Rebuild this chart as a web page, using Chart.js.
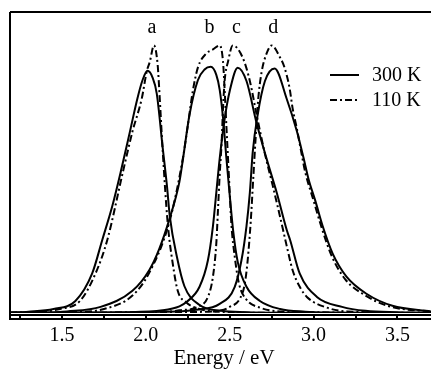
<!DOCTYPE html>
<html>
<head>
<meta charset="utf-8">
<script src="https://cdn.jsdelivr.net/npm/chart.js@4/dist/chart.umd.min.js"></script>
<style>
html,body{margin:0;padding:0;background:#fff;}
canvas{display:block;}
</style>
</head>
<body>
<canvas id="c" width="431" height="374"></canvas>
<script>
// Energies (eV) and intensities
const a300E = [1.19,1.30,1.45,1.58,1.68,1.74,1.80,1.85,1.905,1.95,1.98,2.01,2.04,2.065,2.10,2.125,2.143,2.185,2.23,2.32,2.45,2.60,2.80,3.70];
const a300I = [0.002,0.005,0.015,0.045,0.148,0.273,0.40,0.527,0.678,0.803,0.87,0.905,0.88,0.82,0.62,0.48,0.36,0.21,0.10,0.03,0.008,0.003,0.001,0];
const a110E = [1.19,1.35,1.488,1.607,1.70,1.77,1.863,1.92,1.976,2.006,2.024,2.048,2.07,2.083,2.10,2.13,2.16,2.19,2.24,2.32,2.45,2.70,3.70];
const a110I = [0.001,0.004,0.015,0.045,0.148,0.273,0.527,0.678,0.803,0.905,0.94,1.0,0.93,0.80,0.61,0.337,0.186,0.083,0.04,0.015,0.004,0.001,0];
const b300E = [1.19,1.40,1.53,1.73,1.92,2.02,2.08,2.14,2.20,2.22,2.26,2.31,2.35,2.387,2.42,2.44,2.46,2.48,2.50,2.52,2.548,2.60,2.68,2.80,2.95,3.10,3.70];
const b300I = [0.001,0.002,0.006,0.023,0.083,0.16,0.24,0.35,0.49,0.57,0.74,0.87,0.91,0.92,0.89,0.835,0.73,0.58,0.44,0.31,0.19,0.098,0.045,0.015,0.005,0.002,0];
const b110E = [1.19,1.55,1.75,1.92,2.02,2.14,2.22,2.25,2.28,2.31,2.36,2.40,2.44,2.46,2.47,2.48,2.49,2.50,2.51,2.53,2.555,2.60,2.68,2.80,3.70];
const b110I = [0.001,0.003,0.015,0.065,0.15,0.34,0.576,0.70,0.83,0.917,0.97,0.985,1.0,0.94,0.83,0.70,0.576,0.45,0.33,0.21,0.11,0.05,0.02,0.006,0];
const c300E = [1.19,1.90,2.10,2.20,2.244,2.32,2.37,2.40,2.42,2.44,2.47,2.50,2.548,2.60,2.66,2.72,2.78,2.84,2.86,2.917,3.02,3.17,3.31,3.50,3.70];
const c300I = [0.001,0.003,0.01,0.025,0.042,0.098,0.197,0.325,0.45,0.576,0.727,0.83,0.917,0.867,0.71,0.576,0.45,0.31,0.273,0.148,0.06,0.023,0.008,0.003,0.001];
const c110E = [1.19,2.10,2.20,2.31,2.37,2.40,2.42,2.43,2.44,2.452,2.46,2.47,2.49,2.518,2.577,2.62,2.66,2.708,2.756,2.80,2.84,2.875,2.92,2.96,3.08,3.20,3.70];
const c110I = [0,0.004,0.01,0.023,0.06,0.136,0.26,0.386,0.515,0.64,0.765,0.87,0.94,1.0,0.955,0.867,0.742,0.60,0.477,0.36,0.25,0.16,0.095,0.06,0.02,0.006,0];
const d300E = [1.19,2.20,2.30,2.44,2.53,2.57,2.60,2.62,2.637,2.667,2.71,2.768,2.84,2.90,2.94,2.97,3.01,3.054,3.113,3.196,3.315,3.47,3.70];
const d300I = [0,0.006,0.012,0.034,0.098,0.197,0.325,0.45,0.60,0.742,0.867,0.914,0.80,0.68,0.58,0.50,0.42,0.325,0.223,0.136,0.072,0.027,0.006];
const d110E = [1.19,2.30,2.45,2.50,2.56,2.59,2.607,2.625,2.64,2.655,2.67,2.69,2.72,2.75,2.80,2.827,2.857,2.875,2.90,2.93,2.95,3.00,3.05,3.11,3.19,3.31,3.45,3.70];
const d110I = [0,0.004,0.01,0.023,0.053,0.11,0.197,0.34,0.50,0.66,0.80,0.90,0.97,1.0,0.955,0.917,0.84,0.765,0.69,0.59,0.527,0.42,0.315,0.21,0.125,0.065,0.025,0.005];

const xTicks = [1.5, 2.0, 2.5, 3.0, 3.5];
const minorTicks = [1.25, 1.5, 1.75, 2.0, 2.25, 2.5, 2.75, 3.0, 3.25, 3.5];
const peakLabels = ['a', 'b', 'c', 'd'];
const peakPositions = [2.036, 2.38, 2.54, 2.76];
const legendLabels = ['300 K', '110 K'];
const xTitle = 'Energy / eV';

const FONT = '"Liberation Serif", "Times New Roman", serif';
const DASH = [7, 3, 2, 3];

function pts(E, I) { return E.map((e, i) => ({x: e, y: I[i]})); }
function ds(E, I, dashed) {
  return {
    data: pts(E, I),
    borderColor: '#000',
    borderWidth: 2,
    borderDash: dashed ? DASH : [],
    pointRadius: 0,
    fill: false,
    cubicInterpolationMode: 'monotone'
  };
}

const decor = {
  id: 'decor',
  afterDraw(chart) {
    const ctx = chart.ctx;
    const ca = chart.chartArea;
    const xs = chart.scales.x;
    ctx.save();
    ctx.strokeStyle = '#000';
    ctx.fillStyle = '#000';
    ctx.lineWidth = 2;
    ctx.setLineDash([]);
    // frame
    ctx.beginPath();
    ctx.moveTo(ca.left, ca.top); ctx.lineTo(431, ca.top);
    ctx.moveTo(ca.left, ca.top); ctx.lineTo(ca.left, ca.bottom + 7);
    ctx.stroke();
    // axis band
    const y1 = ca.bottom + 2, y2 = ca.bottom + 6;
    ctx.beginPath();
    ctx.moveTo(ca.left, y1); ctx.lineTo(431, y1);
    ctx.moveTo(ca.left, y2); ctx.lineTo(431, y2);
    minorTicks.forEach(v => {
      const px = Math.round(xs.getPixelForValue(v));
      ctx.moveTo(px, y1); ctx.lineTo(px, y2);
    });
    ctx.stroke();
    // axis title
    ctx.font = '21px ' + FONT;
    ctx.textAlign = 'center';
    ctx.textBaseline = 'middle';
    ctx.fillText(xTitle, 224, 358);
    // peak labels
    ctx.font = '20px ' + FONT;
    peakLabels.forEach((l, i) => {
      ctx.fillText(l, xs.getPixelForValue(peakPositions[i]), 28);
    });
    // legend
    const lx0 = 330, lx1 = 359, tx = 372;
    const ly = [75, 100];
    legendLabels.forEach((l, i) => {
      ctx.setLineDash(i === 0 ? [] : DASH);
      ctx.beginPath();
      ctx.moveTo(lx0, ly[i]); ctx.lineTo(lx1, ly[i]);
      ctx.stroke();
      ctx.setLineDash([]);
      ctx.textAlign = 'left';
      ctx.fillText(l, tx, ly[i] + 1);
    });
    ctx.restore();
  }
};

new Chart(document.getElementById('c'), {
  type: 'line',
  data: {
    datasets: [
      ds(a300E, a300I, false), ds(a110E, a110I, true),
      ds(b300E, b300I, false), ds(b110E, b110I, true),
      ds(c300E, c300I, false), ds(c110E, c110I, true),
      ds(d300E, d300I, false), ds(d110E, d110I, true)
    ]
  },
  options: {
    responsive: false,
    animation: false,
    devicePixelRatio: 1,
    layout: {padding: {left: 10, right: 0, top: 12, bottom: 15}},
    plugins: {legend: {display: false}, tooltip: {enabled: false}},
    scales: {
      x: {
        type: 'linear',
        min: 1.19,
        max: 3.70,
        afterBuildTicks: s => { s.ticks = xTicks.map(v => ({value: v})); },
        grid: {display: false, drawTicks: false},
        border: {display: false},
        ticks: {
          color: '#000',
          padding: 11,
          maxRotation: 0,
          font: {family: FONT, size: 20},
          callback: v => Number(v).toFixed(1)
        },
        title: {display: false}
      },
      y: {display: false, min: 0, max: 1.125}
    }
  },
  plugins: [decor]
});
</script>
</body>
</html>
